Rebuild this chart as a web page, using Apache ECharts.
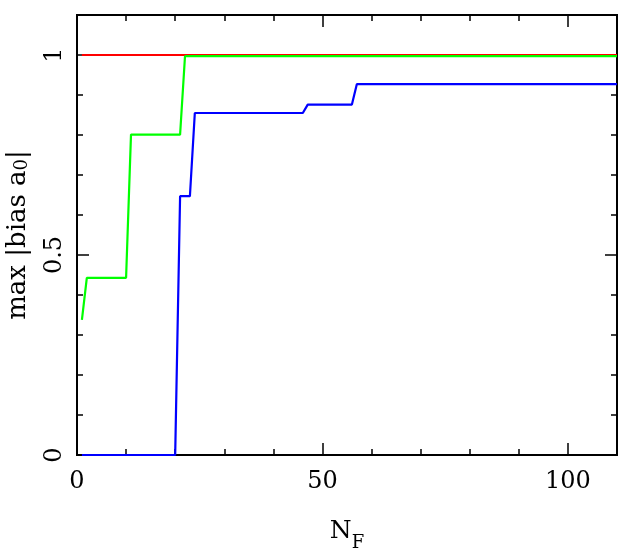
<!DOCTYPE html>
<html>
<head>
<meta charset="utf-8">
<script src="https://cdn.jsdelivr.net/npm/echarts@6/dist/echarts.min.js"></script>
<style>
html,body{margin:0;padding:0;background:#fff;}
#chart{width:634px;height:549px;}
</style>
</head>
<body>
<div id="chart"></div>
<script>
// Step-line vertices (N_F, max |bias a0|)
const redX   = [1, 110];
const redY   = [1, 1];
const greenX = [1, 2, 10, 11, 21, 22, 110];
const greenY = [0.338, 0.443, 0.443, 0.801, 0.801, 0.997, 0.997];
const blueX  = [1, 20, 21, 23, 24, 46, 47, 56, 57, 110];
const blueY  = [0, 0, 0.647, 0.647, 0.855, 0.855, 0.876, 0.876, 0.927, 0.927];

const xLabels = [0, 50, 100];
const yLabels = [0, 0.5, 1];

const FONT = 'DejaVu Serif';
function pairs(xs, ys){ return xs.map((x,i)=>[x, ys[i]]); }

const chart = echarts.init(document.getElementById('chart'));

const lineCol = '#000';
function xAx(pos, minor, withLabel, extra){
  return Object.assign({
    type:'value', gridIndex:0, position:pos, min:0, max:110, interval:10,
    axisLine:{show:true, onZero:false, lineStyle:{color:lineCol, width:2}},
    splitLine:{show:false},
    axisTick:minor ? {show:true, inside:true, length:6, lineStyle:{color:lineCol, width:1.5}}
                   : {show:true, inside:true, length:12, customValues:xLabels, lineStyle:{color:lineCol, width:1.5}},
    axisLabel: withLabel ? {show:true, customValues:xLabels, color:'#000', fontFamily:FONT, fontSize:24, margin:15}
                         : {show:false}
  }, extra||{});
}
function yAx(pos, minor, withLabel, extra){
  return Object.assign({
    type:'value', gridIndex:0, position:pos, min:0, max:1.1, interval:0.1,
    axisLine:{show:true, onZero:false, lineStyle:{color:lineCol, width:2}},
    splitLine:{show:false},
    axisTick:minor ? {show:true, inside:true, length:6, lineStyle:{color:lineCol, width:1.5}}
                   : {show:true, inside:true, length:12, customValues:yLabels, lineStyle:{color:lineCol, width:1.5}},
    axisLabel: withLabel ? {show:true, customValues:yLabels, rotate:90, color:'#000', fontFamily:FONT, fontSize:24, margin:10}
                         : {show:false}
  }, extra||{});
}

chart.setOption({
  animation:false,
  backgroundColor:'#fff',
  grid:{left:77, right:17, top:15, bottom:94, containLabel:false, outerBoundsMode:'none'},
  xAxis:[
    xAx('bottom', true, true, {
      name:'{m|N}{s|F}', nameLocation:'middle', nameGap:64,
      nameTextStyle:{rich:{
        m:{fontFamily:FONT, fontSize:25, color:'#000', verticalAlign:'bottom'},
        s:{fontFamily:FONT, fontSize:18, color:'#000', verticalAlign:'bottom', padding:[0,0,-8,0]}
      }}
    }),
    xAx('bottom', false, false),
    xAx('top', true, false),
    xAx('top', false, false)
  ],
  yAxis:[
    yAx('left', true, true, {
      name:'{m|max |bias a}{s|0}{m||}', nameLocation:'middle', nameGap:46, nameRotate:90,
      nameTextStyle:{rich:{
        m:{fontFamily:FONT, fontSize:26, color:'#000'},
        s:{fontFamily:FONT, fontSize:18, color:'#000', padding:[0,0,-9,0]}
      }}
    }),
    yAx('left', false, false),
    yAx('right', true, false),
    yAx('right', false, false)
  ],
  series:[
    {type:'line', xAxisIndex:0, yAxisIndex:0, data:pairs(redX, redY), showSymbol:false,
     lineStyle:{color:'#ff0000', width:2.2}, z:2},
    {type:'line', xAxisIndex:0, yAxisIndex:0, data:pairs(greenX, greenY), showSymbol:false,
     lineStyle:{color:'#00ff00', width:2.2}, z:3},
    {type:'line', xAxisIndex:0, yAxisIndex:0, data:pairs(blueX, blueY), showSymbol:false,
     lineStyle:{color:'#0000ff', width:2.2}, z:3}
  ]
});
</script>
</body>
</html>
